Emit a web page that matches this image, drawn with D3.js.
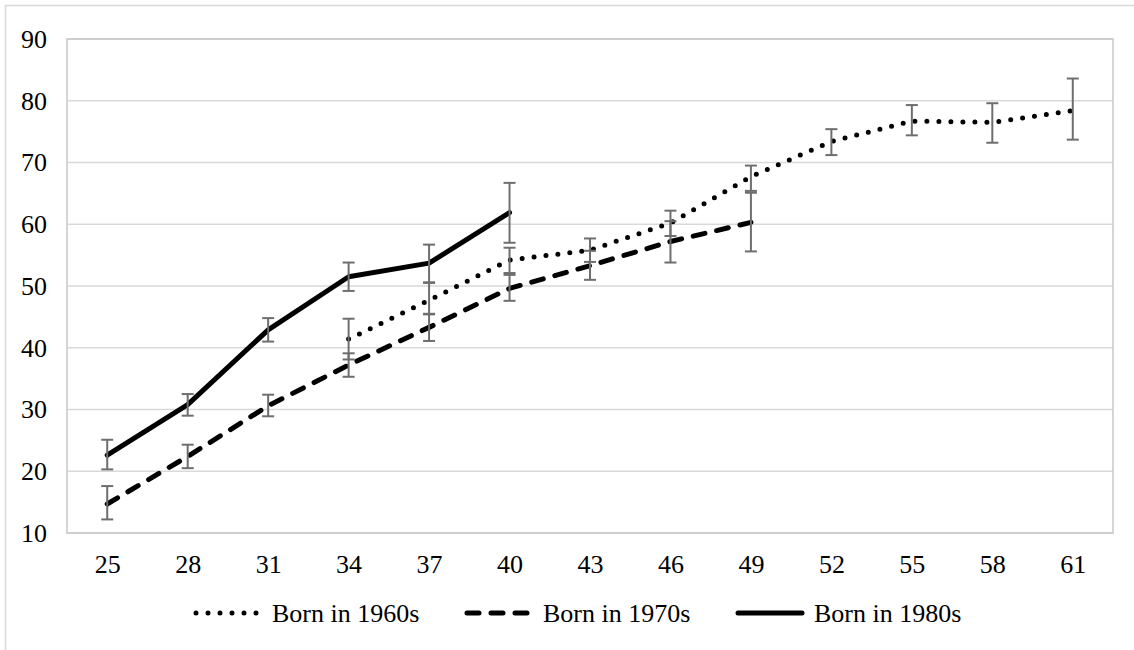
<!DOCTYPE html>
<html>
<head>
<meta charset="utf-8">
<script src="https://cdn.jsdelivr.net/npm/d3@7/dist/d3.min.js"></script>
<style>
  html, body { margin: 0; padding: 0; background: #fff; }
  text { font-family: "Liberation Serif", "Times New Roman", serif; fill: #000; }
</style>
</head>
<body>
<svg id="chart" width="1134" height="650"></svg>
<script>
// ages on the x axis
const ages = ["25","28","31","34","37","40","43","46","49","52","55","58","61"];
const yTicks = [10,20,30,40,50,60,70,80,90];

// Born in 1960s (dotted)
const s1960  = [null,null,null,41.4,47.7,54.2,55.8,60.2,67.7,73.4,76.7,76.5,78.4];
const lo1960 = [null,null,null,38.1,45.4,52.1,53.9,58.1,65.4,71.2,74.4,73.2,73.7];
const hi1960 = [null,null,null,44.7,50.5,56.2,57.7,62.2,69.5,75.4,79.3,79.6,83.6];

// Born in 1970s (dashed)
const s1970  = [14.7,22.4,30.6,37.2,43.3,49.6,53.3,57.2,60.3,null,null,null,null];
const lo1970 = [12.2,20.5,28.9,35.3,41.1,47.6,51.0,53.8,55.6,null,null,null,null];
const hi1970 = [17.6,24.3,32.4,39.1,45.5,51.8,55.7,60.5,65.1,null,null,null,null];

// Born in 1980s (solid)
const s1980  = [22.6,30.8,42.9,51.5,53.7,61.9,null,null,null,null,null,null,null];
const lo1980 = [20.3,29.0,41.0,49.2,50.6,57.0,null,null,null,null,null,null,null];
const hi1980 = [25.1,32.5,44.8,53.8,56.7,66.7,null,null,null,null,null,null,null];

const seriesNames = ["Born in 1960s","Born in 1970s","Born in 1980s"];

const series = [
  {name: seriesNames[0], vals: s1960, lo: lo1960, hi: hi1960, dash: "0 12"},
  {name: seriesNames[1], vals: s1970, lo: lo1970, hi: hi1970, dash: "12 12"},
  {name: seriesNames[2], vals: s1980, lo: lo1980, hi: hi1980, dash: null}
];

const svg = d3.select("#chart");
const pLeft = 67, pRight = 1113, pTop = 39, pBottom = 533;

const x = d3.scalePoint().domain(ages).range([pLeft, pRight]).padding(0.5);
const y = d3.scaleLinear().domain([10, 90]).range([pBottom, pTop]);

// outer chart border
svg.append("rect")
  .attr("x", 5.5).attr("y", 5.5).attr("width", 1140).attr("height", 660)
  .attr("fill", "none").attr("stroke", "#d9d9d9").attr("stroke-width", 1.5);

// gridlines
svg.append("g").selectAll("line").data(yTicks).join("line")
  .attr("x1", pLeft).attr("x2", pRight)
  .attr("y1", d => y(d)).attr("y2", d => y(d))
  .attr("stroke", "#d9d9d9").attr("stroke-width", 1.5);

// plot area border
svg.append("rect")
  .attr("x", pLeft).attr("y", pTop).attr("width", pRight - pLeft).attr("height", pBottom - pTop)
  .attr("fill", "none").attr("stroke", "#c8c8c8").attr("stroke-width", 1.5);

// y axis labels
const yAxis = d3.axisLeft(y).tickValues(yTicks).tickSize(0).tickPadding(20);
svg.append("g").attr("transform", `translate(${pLeft},0)`).call(yAxis)
  .call(g => g.select(".domain").remove())
  .selectAll("text").style("font-size", "26px").attr("font-family", "Liberation Serif");

// x axis labels
const xAxis = d3.axisBottom(x).tickSize(0).tickPadding(22);
svg.append("g").attr("transform", `translate(0,${pBottom})`).call(xAxis)
  .call(g => g.select(".domain").remove())
  .selectAll("text").style("font-size", "26px").attr("font-family", "Liberation Serif");

const line = d3.line()
  .defined(d => d.v != null)
  .x(d => x(d.age))
  .y(d => y(d.v));

series.forEach(s => {
  const pts = ages.map((a, i) => ({age: a, v: s.vals[i], lo: s.lo[i], hi: s.hi[i]}))
    .filter(d => d.v != null);

  svg.append("path")
    .datum(pts)
    .attr("d", line)
    .attr("fill", "none")
    .attr("stroke", "#000")
    .attr("stroke-width", 5)
    .attr("stroke-linecap", "round")
    .attr("stroke-linejoin", "round")
    .attr("stroke-dasharray", s.dash);

  const eb = svg.append("g").attr("stroke", "#6e6e6e").attr("stroke-width", 2);
  eb.selectAll("line.v").data(pts).join("line").attr("class", "v")
    .attr("x1", d => x(d.age)).attr("x2", d => x(d.age))
    .attr("y1", d => y(d.lo)).attr("y2", d => y(d.hi));
  eb.selectAll("line.t").data(pts).join("line").attr("class", "t")
    .attr("x1", d => x(d.age) - 6).attr("x2", d => x(d.age) + 6)
    .attr("y1", d => y(d.hi)).attr("y2", d => y(d.hi));
  eb.selectAll("line.b").data(pts).join("line").attr("class", "b")
    .attr("x1", d => x(d.age) - 6).attr("x2", d => x(d.age) + 6)
    .attr("y1", d => y(d.lo)).attr("y2", d => y(d.lo));
});

// legend
const legX = d3.scaleOrdinal().domain(seriesNames).range([194, 465, 736]);
const legY = 613;
const leg = svg.append("g").selectAll("g").data(series).join("g")
  .attr("transform", d => `translate(${legX(d.name)},${legY})`);
leg.append("line")
  .attr("x1", 2).attr("x2", 66).attr("y1", 0).attr("y2", 0)
  .attr("stroke", "#000").attr("stroke-width", 5)
  .attr("stroke-linecap", "round")
  .attr("stroke-dasharray", d => d.dash);
leg.append("text")
  .attr("x", 78).attr("y", 0).attr("dy", "0.33em")
  .style("font-size", "26px")
  .text(d => d.name);
</script>
</body>
</html>
